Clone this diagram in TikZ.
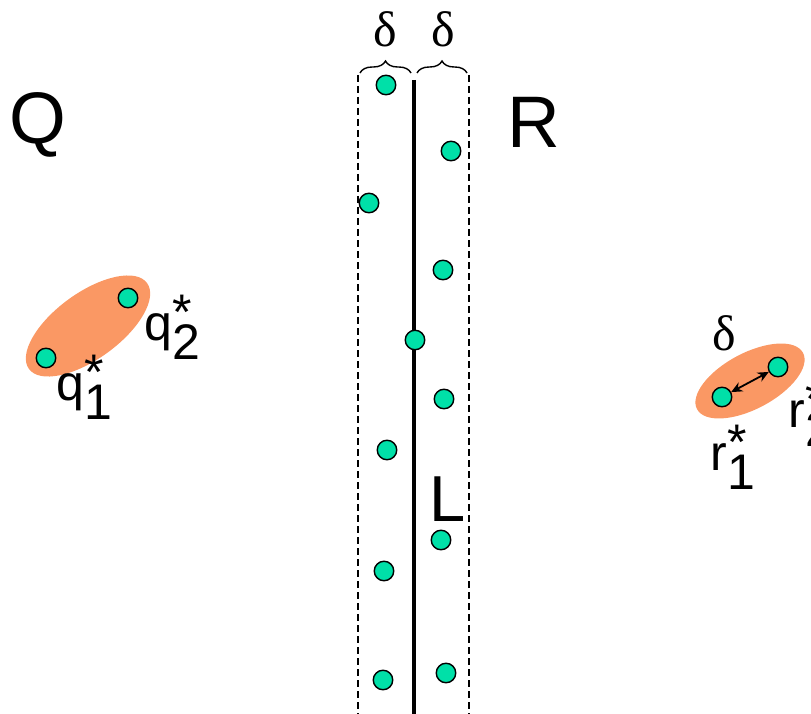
\documentclass[tikz,border=0pt]{standalone}
\usepackage{fontspec}
\setmainfont{Liberation Sans}
\newfontfamily\seriffont{Liberation Serif}
\usetikzlibrary{decorations.pathreplacing,arrows.meta,shapes.geometric}
\definecolor{dotc}{RGB}{0,224,168}
\definecolor{ellc}{RGB}{250,152,100}
\newcommand{\starlab}[2]{#1\rlap{\raisebox{0.22em}{*}}\raisebox{-0.38em}{#2}}
\begin{document}
\begin{tikzpicture}[x=1pt,y=-1pt,
  dotstyle/.style={circle,draw=black,line width=1.4pt,fill=dotc,minimum size=19.5pt,inner sep=0pt},
  blob/.style={ellipse,fill=ellc,inner sep=0pt},
  bigletter/.style={font=\fontsize{73}{73}\selectfont,inner sep=0pt},
  Lletter/.style={font=\fontsize{65}{65}\selectfont,inner sep=0pt},
  deltalab/.style={font=\seriffont\fontsize{50}{50}\selectfont,inner sep=0pt},
  starlabel/.style={font=\fontsize{50}{50}\selectfont,inner sep=0pt},
  bandline/.style={line width=1.4pt,dash pattern=on 7pt off 4pt},
  mainline/.style={line width=4.8pt},
  bracestyle/.style={decorate,decoration={brace,amplitude=12pt},line width=1.4pt},
  dblarrow/.style={{Stealth[length=11pt,width=10pt]}-{Stealth[length=11pt,width=10pt]},line width=1.8pt}]
\useasboundingbox (0,0) rectangle (811,714);
% band
\coordinate (dlt) at (358,75);
\coordinate (dlb) at (358,714);
\coordinate (drt) at (469,75);
\coordinate (drb) at (469,714);
\coordinate (lt) at (414,80);
\coordinate (lb) at (414,714);
\draw[bandline] (dlt) -- (dlb);
\draw[bandline] (drt) -- (drb);
\draw[mainline] (lt) -- (lb);
% braces
\coordinate (b1a) at (360,73);
\coordinate (b1b) at (411,73);
\coordinate (b2a) at (417,73);
\coordinate (b2b) at (467,73);
\draw[bracestyle] (b1a) -- (b1b);
\draw[bracestyle] (b2a) -- (b2b);
\node[deltalab] (d1) at (385,29) {δ};
\node[deltalab] (d2) at (443,29) {δ};
% letters
\node[bigletter] (Q) at (38,125) {Q};
\node[bigletter] (R) at (534,122) {R};
\node[Lletter] (L) at (448,499) {L};
% dots in band
\node[dotstyle] (p1) at (386,85) {};
\node[dotstyle] (p2) at (451,151) {};
\node[dotstyle] (p3) at (369,203) {};
\node[dotstyle] (p4) at (443,270) {};
\node[dotstyle] (p5) at (415,340) {};
\node[dotstyle] (p6) at (444,399) {};
\node[dotstyle] (p7) at (387,450) {};
\node[dotstyle] (p8) at (441,540) {};
\node[dotstyle] (p9) at (384,571) {};
\node[dotstyle] (p10) at (383,680) {};
\node[dotstyle] (p11) at (446,673) {};
% Q pair
\node[blob,minimum width=146pt,minimum height=66pt,rotate=36] (qe) at (88,326) {};
\node[dotstyle] (q1) at (46,358) {};
\node[dotstyle] (q2) at (128,298) {};
\node[starlabel] (q2l) at (172,327) {\starlab{q}{2}};
\node[starlabel] (q1l) at (84,387) {\starlab{q}{1}};
% R pair
\node[blob,minimum width=120pt,minimum height=56pt,rotate=28] (re) at (750,381) {};
\node[dotstyle] (r1) at (722,397) {};
\node[dotstyle] (r2) at (778,367) {};
\draw[dblarrow] (r1) -- (r2);
\node[deltalab] (d3) at (724,333) {δ};
\node[starlabel] (r1l) at (733,457) {\starlab{r}{1}};
\node[starlabel] (r2l) at (811,414) {\starlab{r}{2}};
\end{tikzpicture}
\end{document}
